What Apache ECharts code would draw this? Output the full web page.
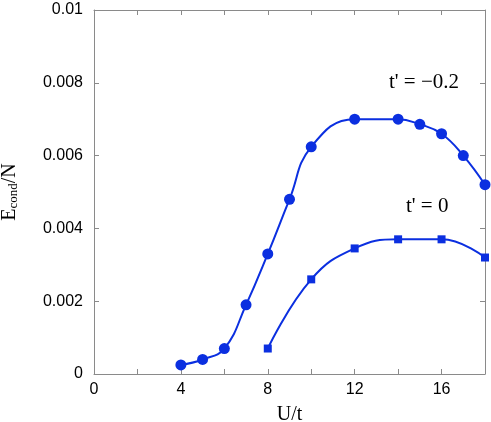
<!DOCTYPE html>
<html>
<head>
<meta charset="utf-8">
<script src="https://cdn.jsdelivr.net/npm/echarts@6/dist/echarts.min.js"></script>
<style>
  html, body { margin: 0; padding: 0; background: #fff; }
  #chart { width: 491px; height: 422px; }
</style>
</head>
<body>
<div id="chart"></div>
<script>
// t' = -0.2 (circles)
const uNeg = [4, 5, 6, 7, 8, 9, 10, 12, 14, 15, 16, 17, 18];
const eNeg = [0.00025, 0.0004, 0.0007, 0.0019, 0.0033, 0.0048, 0.00624, 0.0070, 0.0070, 0.00686, 0.0066, 0.0060, 0.0052];
// t' = 0 (squares)
const uZero = [8, 10, 12, 14, 16, 18];
const eZero = [0.0007, 0.0026, 0.00345, 0.0037, 0.0037, 0.0032];

const blue = '#0b2fe0';
const axisGray = '#8a8a8a';

var chartDom = document.getElementById('chart');
var myChart = echarts.init(chartDom);

const tickStyle = { show: true, inside: true, length: 5, lineStyle: { color: axisGray } };
const lineStyleAxis = { show: true, onZero: false, lineStyle: { color: axisGray, width: 1 } };

var option = {
  animation: false,
  backgroundColor: '#fff',
  grid: { left: 94, right: 6, top: 10, bottom: 48, outerBoundsMode: 'none', containLabel: false },
  xAxis: [
    {
      type: 'value', min: 0, max: 18, interval: 2,
      name: 'U/t', nameLocation: 'middle', nameGap: 31,
      nameTextStyle: { fontFamily: 'Liberation Serif', fontSize: 20, color: '#000' },
      axisLine: lineStyleAxis,
      axisTick: tickStyle,
      splitLine: { show: false },
      axisLabel: {
        fontFamily: 'Liberation Sans', fontSize: 16, color: '#000', margin: 8,
        formatter: v => (v % 4 === 0 && v <= 16) ? String(v) : ''
      }
    },
    {
      type: 'value', min: 0, max: 18, interval: 2, position: 'top',
      axisLine: lineStyleAxis,
      axisTick: tickStyle, axisLabel: { show: false }, splitLine: { show: false }
    }
  ],
  yAxis: [
    {
      type: 'value', min: 0, max: 0.01, interval: 0.002,
      name: '{e|E}{sub|cond}{e|/N}', nameLocation: 'middle', nameGap: 74, nameRotate: 90,
      nameTextStyle: {
        rich: {
          e: { fontFamily: 'Liberation Serif', fontSize: 20, color: '#000' },
          sub: { fontFamily: 'Liberation Serif', fontSize: 13, color: '#000', verticalAlign: 'bottom', padding: [8, 0, 0, 0] }
        }
      },
      axisLine: lineStyleAxis,
      axisTick: tickStyle,
      splitLine: { show: false },
      axisLabel: { fontFamily: 'Liberation Sans', fontSize: 16, color: '#000', margin: 11 }
    },
    {
      type: 'value', min: 0, max: 0.01, interval: 0.002, position: 'right',
      axisLine: lineStyleAxis,
      axisTick: tickStyle, axisLabel: { show: false }, splitLine: { show: false }
    }
  ],
  graphic: [
    { type: 'text', left: 389, top: 72, style: { text: "t' = \u22120.2", fontFamily: 'Liberation Serif', fontSize: 21, fill: '#000' } },
    { type: 'text', left: 406, top: 196, style: { text: "t' = 0", fontFamily: 'Liberation Serif', fontSize: 21, fill: '#000' } }
  ],
  series: [
    {
      type: 'line', smooth: 0.45,
      data: uNeg.map((u, i) => [u, eNeg[i]]),
      symbol: 'circle', symbolSize: 11,
      itemStyle: { color: blue },
      lineStyle: { color: blue, width: 2 }
    },
    {
      type: 'line', smooth: 0.45,
      data: uZero.map((u, i) => [u, eZero[i]]),
      symbol: 'rect', symbolSize: 8,
      itemStyle: { color: blue },
      lineStyle: { color: blue, width: 2 }
    }
  ]
};

option && myChart.setOption(option);
</script>
</body>
</html>
